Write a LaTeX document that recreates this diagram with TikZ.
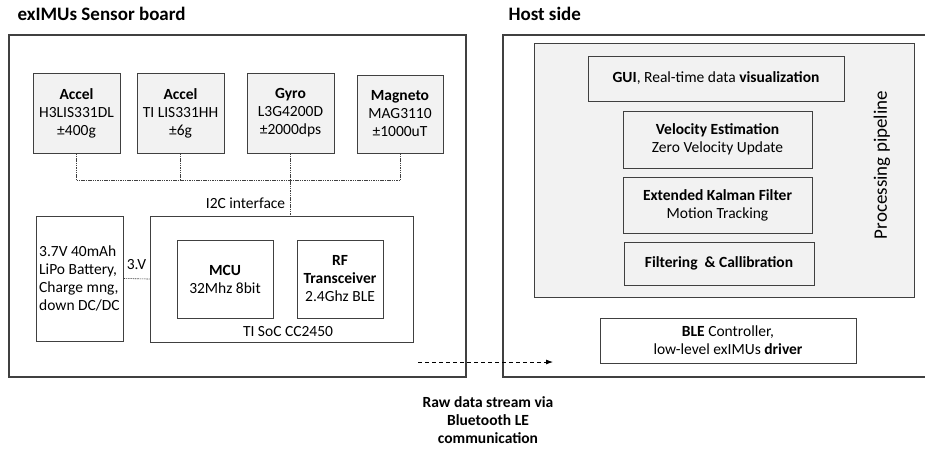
\documentclass[tikz,border=0pt]{standalone}
\usepackage{fontspec}
\setmainfont{Carlito}
\usetikzlibrary{arrows.meta}
\definecolor{edge}{HTML}{404040}
\definecolor{panel}{HTML}{F2F2F2}
\newcommand{\bodyfont}{\fontsize{15.5}{18}\selectfont}
\newcommand{\titlefont}{\fontsize{19}{22}\selectfont\bfseries}
\tikzset{
  every node/.append style={font=\bodyfont},
  block/.style={draw=edge, line width=0.9pt, inner sep=0pt, align=center},
  sensor/.style={block, fill=panel, minimum width=87pt, minimum height=80pt},
  frame/.style={draw=edge, line width=1.1pt, inner sep=0pt},
  bus/.style={draw=edge, line width=0.6pt, dash pattern=on 1.5pt off 0.8pt},
  radio/.style={black, line width=0.8pt, dash pattern=on 4pt off 3pt, -{Latex[length=7pt,width=5pt]}}
}

\begin{document}
\begin{tikzpicture}[x=1pt, y=-1pt]
    \useasboundingbox (0,0) rectangle (925,448);

    % Sensor board
    \node[anchor=base west, font=\titlefont] (boardtitle) at (14,20.5) {exIMUs Sensor board};
    \node[frame, minimum width=457pt, minimum height=342pt] (board) at (237.5,206) {};

    % Sensors
    \node[sensor] (accelA) at (76.5,113) {\textbf{Accel}\\H3LIS331DL\\\textpm400g};
    \node[sensor] (accelB) at (180.5,113) {\textbf{Accel}\\TI LIS331HH\\\textpm6g};
    \node[sensor] (gyro) at (290.5,113) {\textbf{Gyro}\\L3G4200D\\\textpm2000dps};
    \node[sensor, minimum width=86pt, minimum height=78pt] (magneto) at (400,114) {\textbf{Magneto}\\MAG3110\\\textpm1000uT};

    % Power and SoC
    \node[block, align=left, minimum width=87pt, minimum height=125pt] (batt) at (79.5,278.5)
        {3.7V 40mAh\\LiPo Battery,\\Charge mng,\\down DC/DC};
    \node[block, minimum width=263pt, minimum height=126pt] (soc) at (281.5,279) {};
    \node[block, minimum width=96pt, minimum height=78pt] (mcu) at (225,279) {\textbf{MCU}\\32Mhz 8bit};
    \node[block, minimum width=86pt, minimum height=78pt] (rf) at (340,279)
        {\textbf{RF}\\\textbf{Transceiver}\\2.4Ghz BLE};
    \node (socname) at (288,332) {TI SoC CC2450};

    % I2C bus
    \coordinate (busL) at (accelA.south |- 0,180);
    \coordinate (busR) at (magneto.south |- 0,180);
    \draw[bus] (busL) -- (busR);
    \foreach \s in {accelA, accelB, magneto}
        \draw[bus] (\s.south) -- (\s.south |- busL);
    \draw[bus] (gyro.south) -- (gyro.south |- soc.north)
        node[pos=0.8, anchor=east, inner sep=5pt, text=black] (i2c) {I2C interface};

    % Supply line
    \draw[bus] (batt.east) -- (soc.west)
        node[midway, above, yshift=6pt, text=black] (supply) {3.V};

    % Host side
    \node[anchor=base west, font=\titlefont] (hosttitle) at (505,20) {Host side};
    \node[frame, minimum width=427pt, minimum height=342pt] (host) at (716.5,206) {};
    \node[block, fill=panel, minimum width=380pt, minimum height=254pt] (pipe) at (724,170) {};
    \node[rotate=90, font=\fontsize{19}{22}\selectfont] (pipename) at (882,165) {Processing pipeline};

    % Pipeline stages
    \node[block, fill=panel, minimum width=256pt, minimum height=45pt] (gui) at (716,78.5)
        {\textbf{GUI}, Real-time data \textbf{visualization}};
    \node[block, fill=panel, minimum width=189pt, minimum height=57pt] (velo) at (717.5,139.5)
        {\textbf{Velocity Estimation}\\Zero Velocity Update};
    \node[block, fill=panel, minimum width=189pt, minimum height=56pt] (ekf) at (717.5,205)
        {\textbf{Extended Kalman Filter}\\Motion Tracking};
    \node[block, fill=panel, minimum width=190pt, minimum height=43pt] (filt) at (719,263.5)
        {\textbf{Filtering\ \ \& Callibration}};

    % Driver
    \node[block, fill=white, minimum width=256pt, minimum height=45pt] (ble) at (728,340.5)
        {\textbf{BLE} Controller,\\low-level exIMUs \textbf{driver}};

    % Radio link
    \coordinate (tx) at (418,362);
    \coordinate (rx) at (553,362);
    \draw[radio] (tx) -- (rx);
    \node[font=\bodyfont\bfseries, align=center] (link) at (488,420)
        {Raw data stream via\\Bluetooth LE\\communication};
\end{tikzpicture}
\end{document}
